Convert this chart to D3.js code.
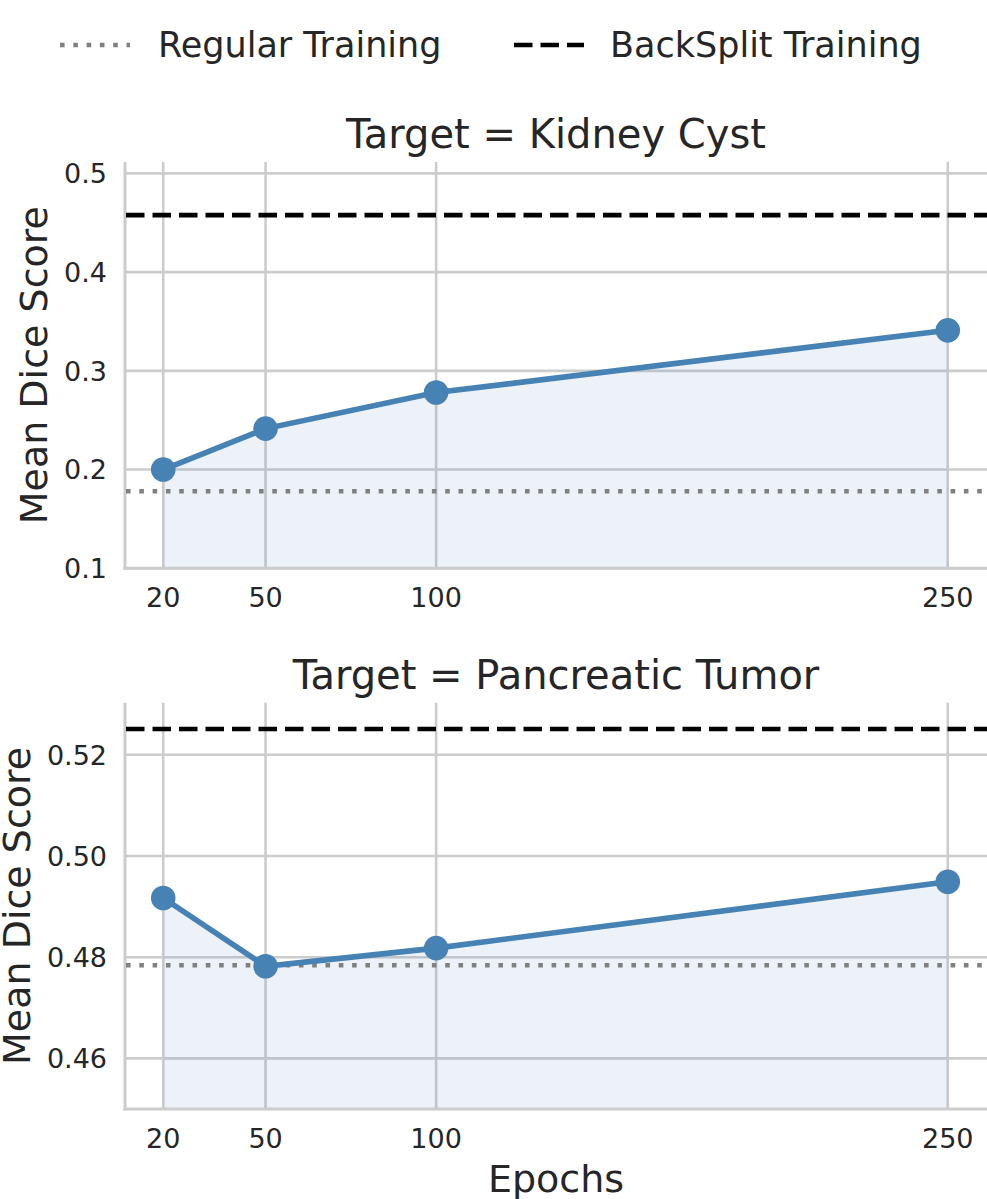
<!DOCTYPE html>
<html>
<head>
<meta charset="utf-8">
<script src="https://cdn.jsdelivr.net/npm/d3@7"></script>
<style>
    body { margin: 0; background: #fff; }
    text { font-family: "DejaVu Sans", sans-serif; fill: #262626; }
</style>
</head>
<body>
<div id="chart"></div>
<script>

// values
const epochs = [20, 50, 100, 250];
const kidneyCystDice = [0.200, 0.2415, 0.278, 0.341];
const pancreaticTumorDice = [0.4917, 0.4782, 0.4818, 0.4949];
const regularTraining = [0.178, 0.4784];
const backSplitTraining = [0.4577, 0.5251];
const panelTitles = ["Target = Kidney Cyst", "Target = Pancreatic Tumor"];
const yTickValues = [[0.1, 0.2, 0.3, 0.4, 0.5], [0.46, 0.48, 0.50, 0.52]];
const yTickFormats = [".1f", ".2f"];
const yLimits = [[0.1, 0.5115], [0.45, 0.5303]];
const xTickValues = [20, 50, 100, 250];
const legendLabels = ["Regular Training", "BackSplit Training"];

const width = 987, height = 1199;
const gridColor = "#cccccc";
const lineColor = "steelblue";

let svg = d3.select("#chart").append("svg")
    .attr("width", width)
    .attr("height", height);

// x scale shared by both panels
let x = d3.scaleLinear()
    .domain([8.5, 261.5])
    .range([124, 987]);

let panels = [
    {title: panelTitles[0], scores: kidneyCystDice, top: 162},
    {title: panelTitles[1], scores: pancreaticTumorDice, top: 702.7}
];
let panelHeight = 406.3;

panels.forEach((p, i) => {
    let g = svg.append("g").attr("class", "panel");

    let y = d3.scaleLinear()
        .domain(yLimits[i])
        .range([p.top + panelHeight, p.top]);

    let bottom = p.top + panelHeight;

    // horizontal grid
    g.selectAll(".hgrid")
        .data(yTickValues[i])
        .enter()
        .append("line")
        .attr("x1", 125).attr("x2", width)
        .attr("y1", d => y(d)).attr("y2", d => y(d))
        .attr("stroke", gridColor)
        .attr("stroke-width", 2.6);

    // vertical grid
    g.selectAll(".vgrid")
        .data(xTickValues)
        .enter()
        .append("line")
        .attr("x1", d => x(d)).attr("x2", d => x(d))
        .attr("y1", p.top).attr("y2", bottom)
        .attr("stroke", gridColor)
        .attr("stroke-width", 2.6);

    let pts = epochs.map((e, j) => ({e: e, v: p.scores[j]}));

    // shaded area under the curve
    let area = d3.area()
        .x(d => x(d.e))
        .y0(y(yLimits[i][0]))
        .y1(d => y(d.v));

    g.append("path")
        .datum(pts)
        .attr("d", area)
        .attr("fill", lineColor)
        .attr("fill-opacity", 0.1);

    // spines (left + bottom)
    g.append("line")
        .attr("x1", 125).attr("x2", 125)
        .attr("y1", p.top).attr("y2", bottom + 1.5)
        .attr("stroke", gridColor).attr("stroke-width", 3);
    g.append("line")
        .attr("x1", 123.5).attr("x2", width)
        .attr("y1", bottom).attr("y2", bottom)
        .attr("stroke", gridColor).attr("stroke-width", 3);

    // reference lines
    g.append("line")
        .attr("x1", 126).attr("x2", width)
        .attr("y1", y(regularTraining[i])).attr("y2", y(regularTraining[i]))
        .attr("stroke", "gray")
        .attr("stroke-width", 4.6)
        .attr("stroke-dasharray", "4.6,8.7");

    g.append("line")
        .attr("x1", 126).attr("x2", width)
        .attr("y1", y(backSplitTraining[i])).attr("y2", y(backSplitTraining[i]))
        .attr("stroke", "black")
        .attr("stroke-width", 4.6)
        .attr("stroke-dasharray", "18.5,8");

    // main line + markers
    let line = d3.line()
        .x(d => x(d.e))
        .y(d => y(d.v));

    g.append("path")
        .datum(pts)
        .attr("d", line)
        .attr("fill", "none")
        .attr("stroke", lineColor)
        .attr("stroke-width", 5.6);

    g.selectAll(".dot")
        .data(pts)
        .enter()
        .append("circle")
        .attr("cx", d => x(d.e))
        .attr("cy", d => y(d.v))
        .attr("r", 12.3)
        .attr("fill", lineColor);

    // y tick labels
    let yFmt = d3.format(yTickFormats[i]);
    let yLabels = g.selectAll(".ytick")
        .data(yTickValues[i])
        .enter()
        .append("text")
        .attr("x", 107)
        .attr("y", d => y(d))
        .attr("dy", "0.36em")
        .attr("text-anchor", "end")
        .style("font-size", "27px")
        .text(d => yFmt(d));

    // x tick labels
    g.selectAll(".xtick")
        .data(xTickValues)
        .enter()
        .append("text")
        .attr("x", d => x(d))
        .attr("y", bottom + 38.5)
        .attr("text-anchor", "middle")
        .style("font-size", "27px")
        .text(d => d);

    // title
    g.append("text")
        .attr("x", (125 + width) / 2)
        .attr("y", p.top - 13.7)
        .attr("text-anchor", "middle")
        .style("font-size", "40px")
        .text(p.title);

    // y label, placed left of the widest tick label
    let minX = d3.min(yLabels.nodes(), n => n.getBBox().x);
    let labelX = minX - 17;
    g.append("text")
        .attr("transform", `translate(${labelX}, ${p.top + panelHeight / 2}) rotate(-90)`)
        .attr("text-anchor", "middle")
        .style("font-size", "38px")
        .text("Mean Dice Score");
});

// x axis label
svg.append("text")
    .attr("x", (125 + width) / 2)
    .attr("y", 1191.7)
    .attr("text-anchor", "middle")
    .style("font-size", "38px")
    .text("Epochs");

// legend
let legend = svg.append("g").attr("class", "legend");

legend.append("line")
    .attr("x1", 60).attr("x2", 130)
    .attr("y1", 45).attr("y2", 45)
    .attr("stroke", "gray")
    .attr("stroke-width", 4.6)
    .attr("stroke-dasharray", "4.6,8.7");
legend.append("text")
    .attr("x", 158)
    .attr("y", 57)
    .style("font-size", "35px")
    .text(legendLabels[0]);

legend.append("line")
    .attr("x1", 514).attr("x2", 584)
    .attr("y1", 45).attr("y2", 45)
    .attr("stroke", "black")
    .attr("stroke-width", 4.6)
    .attr("stroke-dasharray", "18.5,8");
legend.append("text")
    .attr("x", 610)
    .attr("y", 57)
    .style("font-size", "35px")
    .text(legendLabels[1]);

</script>
</body>
</html>
